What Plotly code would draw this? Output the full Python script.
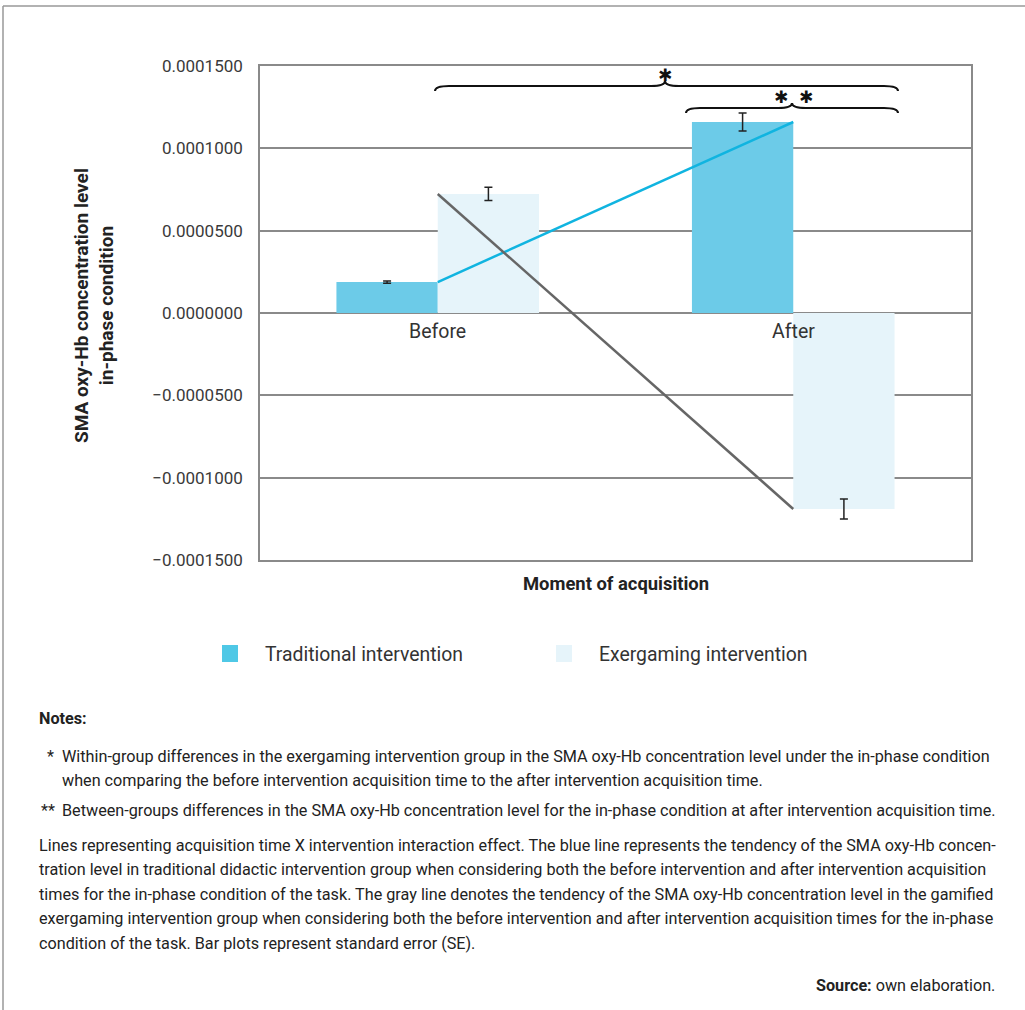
import plotly.graph_objects as go

# ---- data ----
categories = ["Before", "After"]
traditional = [0.0000188, 0.0001160]
exergaming = [0.0000723, -0.0001190]
traditional_se = [0.0000007, 0.0000055]
exergaming_se = [0.0000040, 0.0000061]
tick_vals = [0.00015, 0.0001, 0.00005, 0.0, -0.00005, -0.0001, -0.00015]
tick_text = ["0.0001500", "0.0001000", "0.0000500", "0.0000000",
             "\u22120.0000500", "\u22120.0001000", "\u22120.0001500"]
series_names = ["Traditional intervention", "Exergaming intervention"]

W, H = 1025, 1010
L, R, T, B = 260, 971, 66, 560
FONT = "Roboto"
TXT = "#333333"


def px(x):
    return (x - L) / (R - L)


def py(y):
    return (B - y) / (B - T)


fig = go.Figure()
fig.add_trace(go.Bar(
    x=categories, y=traditional, name=series_names[0],
    marker=dict(color="#6ccbe8", line=dict(width=0)),
    error_y=dict(type="data", array=traditional_se, color="#222222", thickness=1.5, width=4),
))
fig.add_trace(go.Bar(
    x=categories, y=exergaming, name=series_names[1],
    marker=dict(color="#e6f4fa", line=dict(width=0)),
    error_y=dict(type="data", array=exergaming_se, color="#222222", thickness=1.5, width=4),
))
fig.add_trace(go.Scatter(
    x=categories, y=traditional, mode="lines",
    line=dict(color="#10b4e0", width=2.5), showlegend=False, hoverinfo="skip",
))
fig.add_trace(go.Scatter(
    x=categories, y=exergaming, mode="lines",
    line=dict(color="#666666", width=2.5), showlegend=False, hoverinfo="skip",
))

annotations = []
shapes = []


def ann(x, y, text, size, color=TXT, xanchor="center", family=FONT, **kw):
    d = dict(x=px(x), y=py(y), xref="paper", yref="paper", text=text, showarrow=False,
             xanchor=xanchor, yanchor="middle",
             font=dict(family=family, size=size, color=color))
    d.update(kw)
    annotations.append(d)


# category labels at zero line
for c in categories:
    annotations.append(dict(x=c, y=0, xref="x", yref="y", text=c, showarrow=False,
                            xanchor="center", yanchor="middle", yshift=-18,
                            font=dict(family=FONT, size=19.5, color=TXT)))

# axis titles
ann(615.5, 583, "<b>Moment of acquisition</b>", 18.4, color="#222222")
ann(94, 306, "<b>SMA oxy-Hb concentration level<br>in-phase condition</b>", 19,
    color="#222222", textangle=-90)


# braces
def brace(x0, x1, xm, y_end, y_line, y_tip):
    q = 14
    d = (f"M {px(x0)},{py(y_end)} "
         f"Q {px(x0)},{py(y_line)} {px(x0 + q)},{py(y_line)} "
         f"L {px(xm - q)},{py(y_line)} "
         f"Q {px(xm)},{py(y_line)} {px(xm)},{py(y_tip)} "
         f"Q {px(xm)},{py(y_line)} {px(xm + q)},{py(y_line)} "
         f"L {px(x1 - q)},{py(y_line)} "
         f"Q {px(x1)},{py(y_line)} {px(x1)},{py(y_end)}")
    return dict(type="path", path=d, xref="paper", yref="paper",
                line=dict(color="#111111", width=2))


shapes.append(brace(435, 898, 665, 91, 86, 81))
shapes.append(brace(686, 898, 792, 113, 108, 103))
ann(665, 75, "\u2731", 17, color="#111111", family="DejaVu Sans")
ann(793, 97, "\u2731&nbsp;&nbsp;\u2731", 17, color="#111111", family="DejaVu Sans")

# custom legend
legend_items = [(222, "#4fc8e6", 263), (556, "#e6f4fa", 597)]
for (sx, col, tx), name in zip(legend_items, series_names):
    shapes.append(dict(type="rect", xref="paper", yref="paper",
                       x0=px(sx), x1=px(sx + 16), y0=py(645), y1=py(662),
                       fillcolor=col, line=dict(width=0)))
    ann(tx, 654, name, 19.4, xanchor="left")

# frame
shapes.append(dict(type="line", xref="paper", yref="paper", x0=px(3), x1=px(1030),
                   y0=py(6), y1=py(6), line=dict(color="#999999", width=1.5)))
shapes.append(dict(type="line", xref="paper", yref="paper", x0=px(3), x1=px(3),
                   y0=py(6), y1=py(1015), line=dict(color="#999999", width=1.5)))

# notes
NS = 16.2
notes = [
    (37, 718, "<b>Notes:</b>", "left"),
    (45, 756, "*", "left"),
    (60, 756, "Within-group differences in the exergaming intervention group in the SMA oxy-Hb concentration level under the in-phase condition", "left"),
    (60, 780, "when comparing the before intervention acquisition time to the after intervention acquisition time.", "left"),
    (39, 811, "**", "left"),
    (60, 811, "Between-groups differences in the SMA oxy-Hb concentration level for the in-phase condition at after intervention acquisition time.", "left"),
    (37, 845, "Lines representing acquisition time X intervention interaction effect. The blue line represents the tendency of the SMA oxy-Hb concen-", "left"),
    (37, 869, "tration level in traditional didactic intervention group when considering both the before intervention and after intervention acquisition", "left"),
    (37, 894, "times for the in-phase condition of the task. The gray line denotes the tendency of the SMA oxy-Hb concentration level in the gamified", "left"),
    (37, 918, "exergaming intervention group when considering both the before intervention and after intervention acquisition times for the in-phase", "left"),
    (37, 943, "condition of the task. Bar plots represent standard error (SE).", "left"),
    (997, 985, "<b>Source:</b> own elaboration.", "right"),
]
for x, y, t, al in notes:
    ann(x, y, t, NS, color="#222222", xanchor=al)

fig.update_layout(
    width=W, height=H,
    margin=dict(l=L, r=W - R, t=T, b=H - B, pad=0),
    paper_bgcolor="white", plot_bgcolor="white",
    barmode="group", bargap=0.43, bargroupgap=0,
    showlegend=False,
    font=dict(family=FONT, color=TXT),
    xaxis=dict(showticklabels=False, showgrid=False, zeroline=False, ticks="",
               showline=True, mirror=True, linecolor="#8a8a8a", linewidth=1.5,
               fixedrange=True),
    yaxis=dict(range=[-0.00015, 0.00015], tickvals=tick_vals, ticktext=tick_text,
               showgrid=True, gridcolor="#8a8a8a", gridwidth=1.5, zeroline=False,
               showline=True, mirror=True, linecolor="#8a8a8a", linewidth=1.5,
               ticks="", ticklabelstandoff=12,
               tickfont=dict(family=FONT, size=17, color="#3a3a3a")),
    annotations=annotations, shapes=shapes,
)

fig.write_html("out.html", config={"displayModeBar": False},
               post_script="document.body.style.margin='0';")
